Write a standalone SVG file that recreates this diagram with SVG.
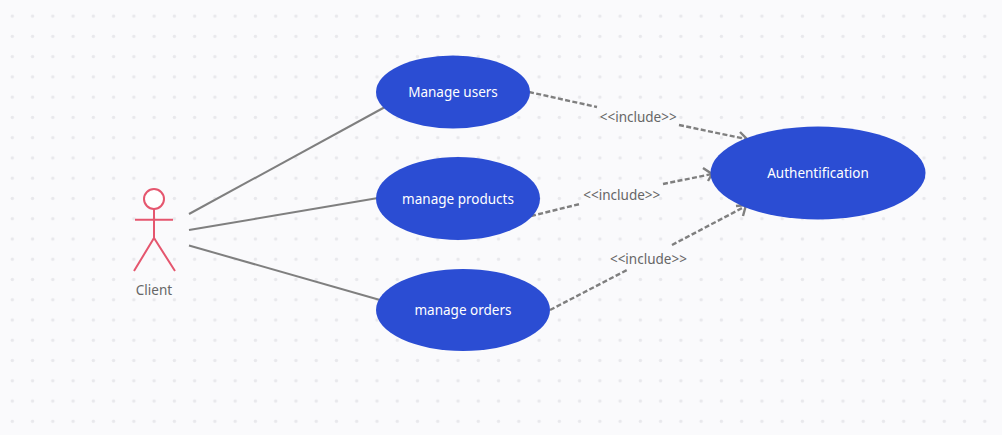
<svg xmlns="http://www.w3.org/2000/svg" width="1002" height="435" viewBox="0 0 1002 435">
<style>
.uc{fill:#2b4dd3}
.ut{fill:#fff;font:13.5px "Noto Sans",sans-serif;text-anchor:middle}
.lbl{fill:#666;font:13.5px "Noto Sans",sans-serif;text-anchor:middle}
.assoc{stroke:#7f7f7f;stroke-width:2;fill:none}
.dash{stroke:#7f7f7f;stroke-width:2.4;fill:none;stroke-dasharray:5 2.400}
.head{stroke:#7f7f7f;stroke-width:2.400;fill:none}
.actor{stroke:#e5566e;stroke-width:2;fill:none}
</style>
<defs>
<pattern id="dots" x="2.200" y="6" width="20.26" height="20.26" patternUnits="userSpaceOnUse"><circle cx="10.1" cy="10.1" r="1.7" fill="#e8e8ec"/></pattern>
</defs>
<rect width="1002" height="435" fill="#fafafc"/>
<rect width="1002" height="435" fill="url(#dots)"/>
<g id="connectors">
<path class="assoc" d="M189 214L385 107"/>
<path class="assoc" d="M189 230L378 198"/>
<path class="assoc" d="M189 245.500L380 300"/>
<path class="dash" d="M529 92L597 107"/>
<path class="dash" d="M679 125L746 139"/>
<path class="head" d="M740 132L747 139L737 145"/>
<path class="dash" d="M531 216L580 204"/>
<path class="dash" d="M663 184L712 174"/>
<path class="head" d="M703 168L712 174L708 181"/>
<path class="dash" d="M550 310L627 270"/>
<path class="dash" d="M672 245L746 206"/>
<path class="head" d="M736 206L746 205L743 216"/>
</g>
<g id="actor-client">
<circle cx="154" cy="199" r="10" fill="#fff" stroke="#e5566e" stroke-width="2"/>
<path class="actor" d="M154 209V238M135 219.800H173M154 238L134 271M154 238L175 271"/>
<text class="lbl" x="154" y="295">Client</text>
</g>
<g id="uc-users"><ellipse class="uc" cx="453" cy="92" rx="77" ry="36.500"/><text class="ut" x="453" y="97">Manage users</text></g>
<g id="uc-products"><ellipse class="uc" cx="458" cy="198.500" rx="82" ry="41.500"/><text class="ut" x="458" y="204">manage products</text></g>
<g id="uc-orders"><ellipse class="uc" cx="463" cy="310" rx="87" ry="41"/><text class="ut" x="463" y="315">manage orders</text></g>
<g id="uc-auth"><ellipse class="uc" cx="818" cy="173" rx="107.500" ry="46.500"/><text class="ut" x="818" y="178">Authentification</text></g>
<g id="labels">
<text class="lbl" x="638.200" y="122">&lt;&lt;include&gt;&gt;</text>
<text class="lbl" x="621.800" y="200">&lt;&lt;include&gt;&gt;</text>
<text class="lbl" x="648.400" y="264">&lt;&lt;include&gt;&gt;</text>
</g>
</svg>
